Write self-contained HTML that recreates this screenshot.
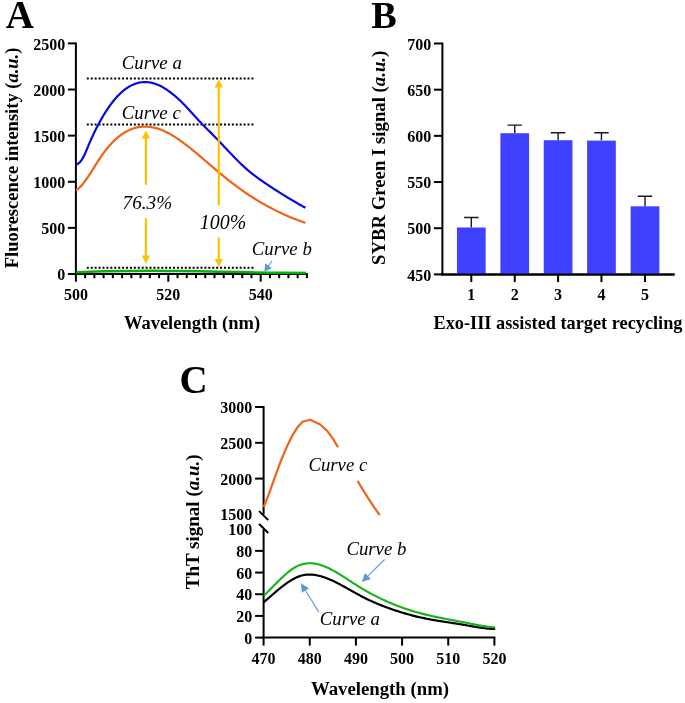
<!DOCTYPE html>
<html><head><meta charset="utf-8"><style>
html,body{margin:0;padding:0;background:#fff;}
svg{display:block;will-change:transform;}
</style></head><body>
<svg width="685" height="703" viewBox="0 0 685 703">
<rect width="685" height="703" fill="#fff"/>
<text x="5.8" y="27.8" font-family="&apos;Liberation Serif&apos;, serif" font-weight="bold" font-size="39">A</text>
<path d="M75.9,42.50000000000001 V274.9" stroke="#000" stroke-width="2" fill="none"/>
<path d="M74.9,274.0 H307.9" stroke="#000" stroke-width="2" fill="none"/>
<path d="M67.9,274.00 H75.9" stroke="#000" stroke-width="2"/>
<text x="65.2" y="280.10" font-family="&apos;Liberation Serif&apos;, serif" font-weight="bold" font-size="16" text-anchor="end">0</text>
<path d="M67.9,227.88 H75.9" stroke="#000" stroke-width="2"/>
<text x="65.2" y="233.98" font-family="&apos;Liberation Serif&apos;, serif" font-weight="bold" font-size="16" text-anchor="end">500</text>
<path d="M67.9,181.76 H75.9" stroke="#000" stroke-width="2"/>
<text x="65.2" y="187.86" font-family="&apos;Liberation Serif&apos;, serif" font-weight="bold" font-size="16" text-anchor="end">1000</text>
<path d="M67.9,135.64 H75.9" stroke="#000" stroke-width="2"/>
<text x="65.2" y="141.74" font-family="&apos;Liberation Serif&apos;, serif" font-weight="bold" font-size="16" text-anchor="end">1500</text>
<path d="M67.9,89.52 H75.9" stroke="#000" stroke-width="2"/>
<text x="65.2" y="95.62" font-family="&apos;Liberation Serif&apos;, serif" font-weight="bold" font-size="16" text-anchor="end">2000</text>
<path d="M67.9,43.40 H75.9" stroke="#000" stroke-width="2"/>
<text x="65.2" y="49.50" font-family="&apos;Liberation Serif&apos;, serif" font-weight="bold" font-size="16" text-anchor="end">2500</text>
<path d="M75.90,274.0 V281.7" stroke="#000" stroke-width="2"/>
<path d="M85.14,274.0 V278.2" stroke="#000" stroke-width="2"/>
<path d="M94.38,274.0 V278.2" stroke="#000" stroke-width="2"/>
<path d="M103.62,274.0 V278.2" stroke="#000" stroke-width="2"/>
<path d="M112.86,274.0 V278.2" stroke="#000" stroke-width="2"/>
<path d="M122.10,274.0 V278.2" stroke="#000" stroke-width="2"/>
<path d="M131.34,274.0 V278.2" stroke="#000" stroke-width="2"/>
<path d="M140.58,274.0 V278.2" stroke="#000" stroke-width="2"/>
<path d="M149.82,274.0 V278.2" stroke="#000" stroke-width="2"/>
<path d="M159.06,274.0 V278.2" stroke="#000" stroke-width="2"/>
<path d="M168.30,274.0 V281.7" stroke="#000" stroke-width="2"/>
<path d="M177.54,274.0 V278.2" stroke="#000" stroke-width="2"/>
<path d="M186.78,274.0 V278.2" stroke="#000" stroke-width="2"/>
<path d="M196.02,274.0 V278.2" stroke="#000" stroke-width="2"/>
<path d="M205.26,274.0 V278.2" stroke="#000" stroke-width="2"/>
<path d="M214.50,274.0 V278.2" stroke="#000" stroke-width="2"/>
<path d="M223.74,274.0 V278.2" stroke="#000" stroke-width="2"/>
<path d="M232.98,274.0 V278.2" stroke="#000" stroke-width="2"/>
<path d="M242.22,274.0 V278.2" stroke="#000" stroke-width="2"/>
<path d="M251.46,274.0 V278.2" stroke="#000" stroke-width="2"/>
<path d="M260.70,274.0 V281.7" stroke="#000" stroke-width="2"/>
<path d="M269.94,274.0 V278.2" stroke="#000" stroke-width="2"/>
<path d="M279.18,274.0 V278.2" stroke="#000" stroke-width="2"/>
<path d="M288.42,274.0 V278.2" stroke="#000" stroke-width="2"/>
<path d="M297.66,274.0 V278.2" stroke="#000" stroke-width="2"/>
<path d="M306.90,274.0 V278.2" stroke="#000" stroke-width="2"/>
<text x="75.90" y="299.8" font-family="&apos;Liberation Serif&apos;, serif" font-weight="bold" font-size="16" text-anchor="middle">500</text>
<text x="168.30" y="299.8" font-family="&apos;Liberation Serif&apos;, serif" font-weight="bold" font-size="16" text-anchor="middle">520</text>
<text x="260.70" y="299.8" font-family="&apos;Liberation Serif&apos;, serif" font-weight="bold" font-size="16" text-anchor="middle">540</text>
<text x="192" y="328.9" font-family="&apos;Liberation Serif&apos;, serif" font-weight="bold" font-size="18.5" text-anchor="middle">Wavelength (nm)</text>
<text transform="translate(17.5,157.9) rotate(-90)" font-family="&apos;Liberation Serif&apos;, serif" font-weight="bold" font-size="18.5" text-anchor="middle">Fluorescence intensity (<tspan font-style="italic">a.u.</tspan>)</text>
<path d="M86.8,78.6 H254" stroke="#000" stroke-width="2" stroke-dasharray="2 1.92" fill="none"/>
<path d="M86.8,124.4 H254" stroke="#000" stroke-width="2" stroke-dasharray="2 1.92" fill="none"/>
<path d="M86.8,267.8 H254" stroke="#000" stroke-width="2" stroke-dasharray="2 1.92" fill="none"/>
<path d="M76.00,164.73 L77.00,164.35 L78.00,163.77 L79.00,162.98 L80.00,161.98 L81.00,160.76 L82.00,159.32 L83.00,157.66 L84.00,155.78 L85.00,153.67 L86.00,151.40 L87.00,149.02 L88.00,146.60 L89.00,144.19 L90.00,141.85 L91.00,139.57 L92.00,137.36 L93.00,135.21 L94.00,133.11 L95.00,131.05 L96.00,129.05 L97.00,127.08 L98.00,125.16 L99.00,123.28 L100.00,121.44 L101.00,119.65 L102.00,117.90 L103.00,116.19 L104.00,114.52 L105.00,112.90 L106.00,111.32 L107.00,109.78 L108.00,108.29 L109.00,106.84 L110.00,105.43 L111.00,104.06 L112.00,102.74 L113.00,101.46 L114.00,100.22 L115.00,99.03 L116.00,97.88 L117.00,96.77 L118.00,95.70 L119.00,94.68 L120.00,93.70 L121.00,92.76 L122.00,91.86 L123.00,91.00 L124.00,90.19 L125.00,89.41 L126.00,88.68 L127.00,87.99 L128.00,87.33 L129.00,86.72 L130.00,86.14 L131.00,85.61 L132.00,85.11 L133.00,84.65 L134.00,84.23 L135.00,83.85 L136.00,83.51 L137.00,83.20 L138.00,82.93 L139.00,82.70 L140.00,82.50 L141.00,82.34 L142.00,82.22 L143.00,82.13 L144.00,82.08 L145.00,82.06 L146.00,82.08 L147.00,82.13 L148.00,82.22 L149.00,82.34 L150.00,82.50 L151.00,82.68 L152.00,82.91 L153.00,83.16 L154.00,83.45 L155.00,83.77 L156.00,84.12 L157.00,84.50 L158.00,84.91 L159.00,85.35 L160.00,85.82 L161.00,86.32 L162.00,86.84 L163.00,87.40 L164.00,87.98 L165.00,88.59 L166.00,89.22 L167.00,89.88 L168.00,90.57 L169.00,91.28 L170.00,92.01 L171.00,92.77 L172.00,93.55 L173.00,94.35 L174.00,95.18 L175.00,96.02 L176.00,96.89 L177.00,97.78 L178.00,98.69 L179.00,99.61 L180.00,100.56 L181.00,101.52 L182.00,102.51 L183.00,103.51 L184.00,104.52 L185.00,105.56 L186.00,106.60 L187.00,107.66 L188.00,108.73 L189.00,109.81 L190.00,110.89 L191.00,111.99 L192.00,113.08 L193.00,114.18 L194.00,115.28 L195.00,116.38 L196.00,117.47 L197.00,118.57 L198.00,119.65 L199.00,120.73 L200.00,121.80 L201.00,122.86 L202.00,123.91 L203.00,124.95 L204.00,125.97 L205.00,126.97 L206.00,127.96 L207.00,128.95 L208.00,129.93 L209.00,130.91 L210.00,131.90 L211.00,132.90 L212.00,133.90 L213.00,134.91 L214.00,135.93 L215.00,136.95 L216.00,137.98 L217.00,139.01 L218.00,140.05 L219.00,141.09 L220.00,142.14 L221.00,143.20 L222.00,144.25 L223.00,145.32 L224.00,146.38 L225.00,147.44 L226.00,148.51 L227.00,149.57 L228.00,150.63 L229.00,151.69 L230.00,152.75 L231.00,153.80 L232.00,154.85 L233.00,155.89 L234.00,156.93 L235.00,157.96 L236.00,158.98 L237.00,159.99 L238.00,160.99 L239.00,161.99 L240.00,162.97 L241.00,163.94 L242.00,164.89 L243.00,165.84 L244.00,166.76 L245.00,167.68 L246.00,168.57 L247.00,169.45 L248.00,170.32 L249.00,171.16 L250.00,171.99 L251.00,172.80 L252.00,173.60 L253.00,174.39 L254.00,175.16 L255.00,175.92 L256.00,176.67 L257.00,177.40 L258.00,178.13 L259.00,178.85 L260.00,179.56 L261.00,180.26 L262.00,180.95 L263.00,181.64 L264.00,182.33 L265.00,183.01 L266.00,183.68 L267.00,184.35 L268.00,185.02 L269.00,185.69 L270.00,186.35 L271.00,187.01 L272.00,187.67 L273.00,188.32 L274.00,188.97 L275.00,189.62 L276.00,190.27 L277.00,190.91 L278.00,191.54 L279.00,192.18 L280.00,192.81 L281.00,193.44 L282.00,194.06 L283.00,194.69 L284.00,195.31 L285.00,195.92 L286.00,196.53 L287.00,197.14 L288.00,197.75 L289.00,198.35 L290.00,198.95 L291.00,199.55 L292.00,200.14 L293.00,200.73 L294.00,201.32 L295.00,201.90 L296.00,202.48 L297.00,203.06 L298.00,203.63 L299.00,204.20 L300.00,204.77 L301.00,205.33 L302.00,205.90 L303.00,206.45 L304.00,207.01 L305.00,207.56 L305.40,207.78" stroke="#0A0AE0" stroke-width="2.2" fill="none"/>
<path d="M76.00,189.93 L77.00,189.50 L78.00,188.87 L79.00,188.08 L80.00,187.14 L81.00,186.08 L82.00,184.92 L83.00,183.69 L84.00,182.41 L85.00,181.09 L86.00,179.73 L87.00,178.34 L88.00,176.91 L89.00,175.44 L90.00,173.92 L91.00,172.36 L92.00,170.78 L93.00,169.17 L94.00,167.56 L95.00,165.94 L96.00,164.32 L97.00,162.72 L98.00,161.14 L99.00,159.60 L100.00,158.08 L101.00,156.61 L102.00,155.18 L103.00,153.78 L104.00,152.42 L105.00,151.10 L106.00,149.81 L107.00,148.56 L108.00,147.35 L109.00,146.18 L110.00,145.04 L111.00,143.94 L112.00,142.87 L113.00,141.84 L114.00,140.85 L115.00,139.89 L116.00,138.97 L117.00,138.09 L118.00,137.24 L119.00,136.42 L120.00,135.64 L121.00,134.89 L122.00,134.18 L123.00,133.51 L124.00,132.86 L125.00,132.25 L126.00,131.68 L127.00,131.13 L128.00,130.62 L129.00,130.14 L130.00,129.70 L131.00,129.28 L132.00,128.90 L133.00,128.54 L134.00,128.22 L135.00,127.93 L136.00,127.66 L137.00,127.43 L138.00,127.22 L139.00,127.05 L140.00,126.90 L141.00,126.78 L142.00,126.69 L143.00,126.63 L144.00,126.59 L145.00,126.58 L146.00,126.59 L147.00,126.64 L148.00,126.70 L149.00,126.80 L150.00,126.92 L151.00,127.06 L152.00,127.23 L153.00,127.42 L154.00,127.63 L155.00,127.87 L156.00,128.14 L157.00,128.42 L158.00,128.73 L159.00,129.06 L160.00,129.41 L161.00,129.78 L162.00,130.17 L163.00,130.59 L164.00,131.02 L165.00,131.47 L166.00,131.95 L167.00,132.44 L168.00,132.95 L169.00,133.48 L170.00,134.03 L171.00,134.59 L172.00,135.18 L173.00,135.77 L174.00,136.39 L175.00,137.01 L176.00,137.66 L177.00,138.31 L178.00,138.98 L179.00,139.67 L180.00,140.36 L181.00,141.07 L182.00,141.79 L183.00,142.52 L184.00,143.27 L185.00,144.02 L186.00,144.78 L187.00,145.55 L188.00,146.33 L189.00,147.12 L190.00,147.91 L191.00,148.72 L192.00,149.53 L193.00,150.34 L194.00,151.16 L195.00,151.99 L196.00,152.82 L197.00,153.66 L198.00,154.50 L199.00,155.34 L200.00,156.19 L201.00,157.04 L202.00,157.89 L203.00,158.75 L204.00,159.60 L205.00,160.46 L206.00,161.32 L207.00,162.18 L208.00,163.04 L209.00,163.90 L210.00,164.76 L211.00,165.62 L212.00,166.48 L213.00,167.33 L214.00,168.19 L215.00,169.04 L216.00,169.90 L217.00,170.74 L218.00,171.59 L219.00,172.43 L220.00,173.27 L221.00,174.11 L222.00,174.94 L223.00,175.77 L224.00,176.59 L225.00,177.40 L226.00,178.22 L227.00,179.02 L228.00,179.82 L229.00,180.61 L230.00,181.39 L231.00,182.17 L232.00,182.94 L233.00,183.71 L234.00,184.47 L235.00,185.22 L236.00,185.97 L237.00,186.70 L238.00,187.44 L239.00,188.16 L240.00,188.88 L241.00,189.59 L242.00,190.30 L243.00,191.00 L244.00,191.70 L245.00,192.38 L246.00,193.06 L247.00,193.74 L248.00,194.41 L249.00,195.07 L250.00,195.72 L251.00,196.37 L252.00,197.02 L253.00,197.65 L254.00,198.29 L255.00,198.91 L256.00,199.53 L257.00,200.14 L258.00,200.75 L259.00,201.35 L260.00,201.94 L261.00,202.53 L262.00,203.11 L263.00,203.69 L264.00,204.26 L265.00,204.82 L266.00,205.38 L267.00,205.93 L268.00,206.48 L269.00,207.02 L270.00,207.56 L271.00,208.09 L272.00,208.61 L273.00,209.13 L274.00,209.64 L275.00,210.14 L276.00,210.64 L277.00,211.14 L278.00,211.63 L279.00,212.11 L280.00,212.59 L281.00,213.06 L282.00,213.52 L283.00,213.98 L284.00,214.44 L285.00,214.89 L286.00,215.33 L287.00,215.77 L288.00,216.20 L289.00,216.63 L290.00,217.05 L291.00,217.46 L292.00,217.87 L293.00,218.28 L294.00,218.68 L295.00,219.07 L296.00,219.46 L297.00,219.85 L298.00,220.22 L299.00,220.60 L300.00,220.97 L301.00,221.33 L302.00,221.69 L303.00,222.04 L304.00,222.38 L305.00,222.73 L305.40,222.86" stroke="#F16316" stroke-width="2.2" fill="none"/>
<path d="M76.00,272.40 C78.33,272.28 85.33,271.88 90.00,271.70 C94.67,271.52 97.33,271.43 104.00,271.30 C110.67,271.18 119.83,271.02 130.00,270.95 C140.17,270.88 153.33,270.84 165.00,270.90 C176.67,270.96 187.50,271.10 200.00,271.30 C212.50,271.50 228.33,271.87 240.00,272.10 C251.67,272.33 258.97,272.55 270.00,272.70 C281.03,272.85 300.17,272.95 306.20,273.00" stroke="#0AAF0A" stroke-width="2.5" fill="none"/>
<path d="M145.9,138.1 V184.8" stroke="#FFC000" stroke-width="2.2"/><path d="M145.9,130.4 L150.0,138.6 L141.8,138.6 Z" fill="#FFC000"/>
<path d="M145.9,218.2 V256.1" stroke="#FFC000" stroke-width="2.2"/><path d="M145.9,263.8 L150.0,255.60000000000002 L141.8,255.60000000000002 Z" fill="#FFC000"/>
<path d="M218.8,86.9 V205.3" stroke="#FFC000" stroke-width="2.2"/><path d="M218.8,79.2 L222.9,87.4 L214.70000000000002,87.4 Z" fill="#FFC000"/>
<path d="M218.8,237.6 V259.5" stroke="#FFC000" stroke-width="2.2"/><path d="M218.8,267.2 L222.9,259.0 L214.70000000000002,259.0 Z" fill="#FFC000"/>
<text x="121.8" y="68.7" font-family="&apos;Liberation Serif&apos;, serif" font-style="italic" font-size="18.8">Curve a</text>
<text x="121.8" y="118.6" font-family="&apos;Liberation Serif&apos;, serif" font-style="italic" font-size="18.8">Curve c</text>
<text x="122.6" y="208.6" font-family="&apos;Liberation Serif&apos;, serif" font-style="italic" font-size="19.2">76.3%</text>
<text x="199.8" y="229.3" font-family="&apos;Liberation Serif&apos;, serif" font-style="italic" font-size="19.9">100%</text>
<text x="251.8" y="254.8" font-family="&apos;Liberation Serif&apos;, serif" font-style="italic" font-size="18.8">Curve b</text>
<path d="M272.10,260.70 L268.24,266.21" stroke="#5B9BD5" stroke-width="1.1"/><path d="M264.40,271.70 L265.25,263.51 L271.81,268.10 Z" fill="#5B9BD5"/>
<text x="371.3" y="27.5" font-family="&apos;Liberation Serif&apos;, serif" font-weight="bold" font-size="38.3">B</text>
<path d="M442.4,42.59999999999997 V275.29999999999995" stroke="#000" stroke-width="2" fill="none"/>
<path d="M441.4,274.4 H674.6" stroke="#000" stroke-width="2" fill="none"/>
<path d="M433.9,274.40 H442.4" stroke="#000" stroke-width="2"/>
<text x="431.3" y="280.50" font-family="&apos;Liberation Serif&apos;, serif" font-weight="bold" font-size="16" text-anchor="end">450</text>
<path d="M433.9,228.22 H442.4" stroke="#000" stroke-width="2"/>
<text x="431.3" y="234.32" font-family="&apos;Liberation Serif&apos;, serif" font-weight="bold" font-size="16" text-anchor="end">500</text>
<path d="M433.9,182.04 H442.4" stroke="#000" stroke-width="2"/>
<text x="431.3" y="188.14" font-family="&apos;Liberation Serif&apos;, serif" font-weight="bold" font-size="16" text-anchor="end">550</text>
<path d="M433.9,135.86 H442.4" stroke="#000" stroke-width="2"/>
<text x="431.3" y="141.96" font-family="&apos;Liberation Serif&apos;, serif" font-weight="bold" font-size="16" text-anchor="end">600</text>
<path d="M433.9,89.68 H442.4" stroke="#000" stroke-width="2"/>
<text x="431.3" y="95.78" font-family="&apos;Liberation Serif&apos;, serif" font-weight="bold" font-size="16" text-anchor="end">650</text>
<path d="M433.9,43.50 H442.4" stroke="#000" stroke-width="2"/>
<text x="431.3" y="49.60" font-family="&apos;Liberation Serif&apos;, serif" font-weight="bold" font-size="16" text-anchor="end">700</text>
<path d="M471.3,227.5 V217.5 M464.1,217.5 H478.5" stroke="#1a1a1a" stroke-width="1.4" fill="none"/>
<rect x="456.95" y="227.5" width="28.7" height="46.90" fill="#4040FF"/>
<path d="M471.3,274.4 V282.1" stroke="#000" stroke-width="2"/>
<text x="471.3" y="299.5" font-family="&apos;Liberation Serif&apos;, serif" font-weight="bold" font-size="16" text-anchor="middle">1</text>
<path d="M514.75,133.2 V125.1 M507.55,125.1 H521.95" stroke="#1a1a1a" stroke-width="1.4" fill="none"/>
<rect x="500.40" y="133.2" width="28.7" height="141.20" fill="#4040FF"/>
<path d="M514.75,274.4 V282.1" stroke="#000" stroke-width="2"/>
<text x="514.75" y="299.5" font-family="&apos;Liberation Serif&apos;, serif" font-weight="bold" font-size="16" text-anchor="middle">2</text>
<path d="M558.1,140.2 V132.8 M550.9,132.8 H565.3000000000001" stroke="#1a1a1a" stroke-width="1.4" fill="none"/>
<rect x="543.75" y="140.2" width="28.7" height="134.20" fill="#4040FF"/>
<path d="M558.1,274.4 V282.1" stroke="#000" stroke-width="2"/>
<text x="558.1" y="299.5" font-family="&apos;Liberation Serif&apos;, serif" font-weight="bold" font-size="16" text-anchor="middle">3</text>
<path d="M601.45,140.6 V132.8 M594.25,132.8 H608.6500000000001" stroke="#1a1a1a" stroke-width="1.4" fill="none"/>
<rect x="587.10" y="140.6" width="28.7" height="133.80" fill="#4040FF"/>
<path d="M601.45,274.4 V282.1" stroke="#000" stroke-width="2"/>
<text x="601.45" y="299.5" font-family="&apos;Liberation Serif&apos;, serif" font-weight="bold" font-size="16" text-anchor="middle">4</text>
<path d="M645.0,206.3 V196.3 M637.8,196.3 H652.2" stroke="#1a1a1a" stroke-width="1.4" fill="none"/>
<rect x="630.65" y="206.3" width="28.7" height="68.10" fill="#4040FF"/>
<path d="M645.0,274.4 V282.1" stroke="#000" stroke-width="2"/>
<text x="645.0" y="299.5" font-family="&apos;Liberation Serif&apos;, serif" font-weight="bold" font-size="16" text-anchor="middle">5</text>
<path d="M441.4,274.4 H674.6" stroke="#000" stroke-width="2" fill="none"/>
<text x="558.0" y="328.6" font-family="&apos;Liberation Serif&apos;, serif" font-weight="bold" font-size="18.3" text-anchor="middle">Exo-III assisted target recycling</text>
<text transform="translate(384.9,157.85) rotate(-90)" font-family="&apos;Liberation Serif&apos;, serif" font-weight="bold" font-size="18.75" text-anchor="middle">SYBR Green I signal (<tspan font-style="italic">a.u.</tspan>)</text>
<text x="179.5" y="393.0" font-family="&apos;Liberation Serif&apos;, serif" font-weight="bold" font-size="39">C</text>
<path d="M263.6,406.1 V514.4" stroke="#000" stroke-width="2" fill="none"/>
<path d="M263.6,529.2 V638.5" stroke="#000" stroke-width="2" fill="none"/>
<path d="M259.1,511.1 L268.3,520.1 M259.1,524 L268.3,533" stroke="#000" stroke-width="2" fill="none"/>
<path d="M262.6,637.6 H495.4" stroke="#000" stroke-width="2" fill="none"/>
<path d="M255.10000000000002,407.00 H263.6" stroke="#000" stroke-width="2"/>
<text x="252.2" y="413.10" font-family="&apos;Liberation Serif&apos;, serif" font-weight="bold" font-size="16" text-anchor="end">3000</text>
<path d="M255.10000000000002,442.80 H263.6" stroke="#000" stroke-width="2"/>
<text x="252.2" y="448.90" font-family="&apos;Liberation Serif&apos;, serif" font-weight="bold" font-size="16" text-anchor="end">2500</text>
<path d="M255.10000000000002,478.60 H263.6" stroke="#000" stroke-width="2"/>
<text x="252.2" y="484.70" font-family="&apos;Liberation Serif&apos;, serif" font-weight="bold" font-size="16" text-anchor="end">2000</text>
<text x="252.2" y="520.2" font-family="&apos;Liberation Serif&apos;, serif" font-weight="bold" font-size="16" text-anchor="end">1500</text>
<text x="252.2" y="535.2" font-family="&apos;Liberation Serif&apos;, serif" font-weight="bold" font-size="16" text-anchor="end">100</text>
<path d="M255.10000000000002,550.88 H263.6" stroke="#000" stroke-width="2"/>
<text x="252.2" y="556.98" font-family="&apos;Liberation Serif&apos;, serif" font-weight="bold" font-size="16" text-anchor="end">80</text>
<path d="M255.10000000000002,572.56 H263.6" stroke="#000" stroke-width="2"/>
<text x="252.2" y="578.66" font-family="&apos;Liberation Serif&apos;, serif" font-weight="bold" font-size="16" text-anchor="end">60</text>
<path d="M255.10000000000002,594.24 H263.6" stroke="#000" stroke-width="2"/>
<text x="252.2" y="600.34" font-family="&apos;Liberation Serif&apos;, serif" font-weight="bold" font-size="16" text-anchor="end">40</text>
<path d="M255.10000000000002,615.92 H263.6" stroke="#000" stroke-width="2"/>
<text x="252.2" y="622.02" font-family="&apos;Liberation Serif&apos;, serif" font-weight="bold" font-size="16" text-anchor="end">20</text>
<path d="M255.10000000000002,637.60 H263.6" stroke="#000" stroke-width="2"/>
<text x="252.2" y="643.70" font-family="&apos;Liberation Serif&apos;, serif" font-weight="bold" font-size="16" text-anchor="end">0</text>
<path d="M263.60,637.6 V645.6" stroke="#000" stroke-width="2"/>
<text x="263.60" y="663.6" font-family="&apos;Liberation Serif&apos;, serif" font-weight="bold" font-size="16" text-anchor="middle">470</text>
<path d="M309.76,637.6 V645.6" stroke="#000" stroke-width="2"/>
<text x="309.76" y="663.6" font-family="&apos;Liberation Serif&apos;, serif" font-weight="bold" font-size="16" text-anchor="middle">480</text>
<path d="M355.92,637.6 V645.6" stroke="#000" stroke-width="2"/>
<text x="355.92" y="663.6" font-family="&apos;Liberation Serif&apos;, serif" font-weight="bold" font-size="16" text-anchor="middle">490</text>
<path d="M402.08,637.6 V645.6" stroke="#000" stroke-width="2"/>
<text x="402.08" y="663.6" font-family="&apos;Liberation Serif&apos;, serif" font-weight="bold" font-size="16" text-anchor="middle">500</text>
<path d="M448.24,637.6 V645.6" stroke="#000" stroke-width="2"/>
<text x="448.24" y="663.6" font-family="&apos;Liberation Serif&apos;, serif" font-weight="bold" font-size="16" text-anchor="middle">510</text>
<path d="M494.40,637.6 V645.6" stroke="#000" stroke-width="2"/>
<text x="494.40" y="663.6" font-family="&apos;Liberation Serif&apos;, serif" font-weight="bold" font-size="16" text-anchor="middle">520</text>
<text x="380" y="695.4" font-family="&apos;Liberation Serif&apos;, serif" font-weight="bold" font-size="18.75" text-anchor="middle">Wavelength (nm)</text>
<text transform="translate(198.8,521.8) rotate(-90)" font-family="&apos;Liberation Serif&apos;, serif" font-weight="bold" font-size="19" text-anchor="middle">ThT signal (<tspan font-style="italic">a.u.</tspan>)</text>
<path d="M263.70,507.10 L269.00,493.70 L274.90,477.20 L280.90,460.80 L286.90,446.60 L292.90,434.60 L298.10,426.40 L302.60,421.70 L310.00,419.70 L319.80,424.20 L327.20,430.90 L333.20,439.10 L338.00,447.30" stroke="#F16316" stroke-width="2.2" fill="none" stroke-linejoin="round"/>
<path d="M357.70,481.05 L358.70,482.77 L359.70,484.47 L360.70,486.16 L361.70,487.83 L362.70,489.48 L363.70,491.12 L364.70,492.74 L365.70,494.34 L366.70,495.92 L367.70,497.49 L368.70,499.04 L369.70,500.58 L370.70,502.10 L371.70,503.60 L372.70,505.08 L373.70,506.55 L374.70,508.00 L375.70,509.44 L376.70,510.85 L377.70,512.26 L378.70,513.64 L379.70,515.01" stroke="#F16316" stroke-width="2.2" fill="none"/>
<path d="M263.80,602.15 L264.80,601.30 L265.80,600.44 L266.80,599.58 L267.80,598.72 L268.80,597.85 L269.80,596.98 L270.80,596.11 L271.80,595.24 L272.80,594.37 L273.80,593.51 L274.80,592.64 L275.80,591.79 L276.80,590.94 L277.80,590.10 L278.80,589.27 L279.80,588.45 L280.80,587.64 L281.80,586.84 L282.80,586.06 L283.80,585.29 L284.80,584.54 L285.80,583.81 L286.80,583.10 L287.80,582.41 L288.80,581.73 L289.80,581.08 L290.80,580.46 L291.80,579.86 L292.80,579.29 L293.80,578.74 L294.80,578.22 L295.80,577.73 L296.80,577.28 L297.80,576.86 L298.80,576.47 L299.80,576.11 L300.80,575.79 L301.80,575.51 L302.80,575.27 L303.80,575.06 L304.80,574.89 L305.80,574.75 L306.80,574.65 L307.80,574.58 L308.80,574.55 L309.80,574.54 L310.80,574.56 L311.80,574.62 L312.80,574.70 L313.80,574.81 L314.80,574.94 L315.80,575.10 L316.80,575.29 L317.80,575.49 L318.80,575.72 L319.80,575.98 L320.80,576.25 L321.80,576.54 L322.80,576.85 L323.80,577.18 L324.80,577.52 L325.80,577.88 L326.80,578.26 L327.80,578.65 L328.80,579.06 L329.80,579.48 L330.80,579.92 L331.80,580.36 L332.80,580.82 L333.80,581.29 L334.80,581.77 L335.80,582.26 L336.80,582.76 L337.80,583.27 L338.80,583.79 L339.80,584.32 L340.80,584.85 L341.80,585.38 L342.80,585.93 L343.80,586.47 L344.80,587.03 L345.80,587.58 L346.80,588.14 L347.80,588.70 L348.80,589.26 L349.80,589.83 L350.80,590.39 L351.80,590.96 L352.80,591.52 L353.80,592.08 L354.80,592.64 L355.80,593.19 L356.80,593.75 L357.80,594.30 L358.80,594.84 L359.80,595.38 L360.80,595.91 L361.80,596.44 L362.80,596.95 L363.80,597.46 L364.80,597.97 L365.80,598.47 L366.80,598.96 L367.80,599.44 L368.80,599.91 L369.80,600.38 L370.80,600.85 L371.80,601.30 L372.80,601.75 L373.80,602.20 L374.80,602.63 L375.80,603.07 L376.80,603.49 L377.80,603.91 L378.80,604.33 L379.80,604.74 L380.80,605.14 L381.80,605.54 L382.80,605.93 L383.80,606.32 L384.80,606.70 L385.80,607.07 L386.80,607.45 L387.80,607.81 L388.80,608.18 L389.80,608.53 L390.80,608.89 L391.80,609.23 L392.80,609.58 L393.80,609.92 L394.80,610.26 L395.80,610.59 L396.80,610.91 L397.80,611.24 L398.80,611.56 L399.80,611.87 L400.80,612.18 L401.80,612.49 L402.80,612.79 L403.80,613.09 L404.80,613.38 L405.80,613.67 L406.80,613.96 L407.80,614.24 L408.80,614.51 L409.80,614.79 L410.80,615.05 L411.80,615.32 L412.80,615.58 L413.80,615.83 L414.80,616.08 L415.80,616.33 L416.80,616.57 L417.80,616.81 L418.80,617.05 L419.80,617.28 L420.80,617.50 L421.80,617.72 L422.80,617.94 L423.80,618.15 L424.80,618.36 L425.80,618.57 L426.80,618.77 L427.80,618.96 L428.80,619.15 L429.80,619.34 L430.80,619.53 L431.80,619.71 L432.80,619.88 L433.80,620.06 L434.80,620.23 L435.80,620.40 L436.80,620.56 L437.80,620.73 L438.80,620.89 L439.80,621.05 L440.80,621.20 L441.80,621.36 L442.80,621.52 L443.80,621.67 L444.80,621.82 L445.80,621.97 L446.80,622.13 L447.80,622.28 L448.80,622.43 L449.80,622.58 L450.80,622.73 L451.80,622.88 L452.80,623.04 L453.80,623.19 L454.80,623.35 L455.80,623.50 L456.80,623.66 L457.80,623.82 L458.80,623.98 L459.80,624.15 L460.80,624.31 L461.80,624.48 L462.80,624.65 L463.80,624.83 L464.80,625.00 L465.80,625.18 L466.80,625.36 L467.80,625.54 L468.80,625.72 L469.80,625.90 L470.80,626.08 L471.80,626.26 L472.80,626.43 L473.80,626.61 L474.80,626.78 L475.80,626.95 L476.80,627.12 L477.80,627.28 L478.80,627.43 L479.80,627.59 L480.80,627.74 L481.80,627.88 L482.80,628.01 L483.80,628.14 L484.80,628.27 L485.80,628.38 L486.80,628.49 L487.80,628.59 L488.80,628.68 L489.80,628.76 L490.80,628.83 L491.80,628.89 L492.80,628.94 L493.80,628.98 L494.80,629.01 L495.20,629.02" stroke="#000" stroke-width="2.2" fill="none"/>
<path d="M263.80,595.59 L264.80,594.67 L265.80,593.72 L266.80,592.77 L267.80,591.79 L268.80,590.81 L269.80,589.82 L270.80,588.82 L271.80,587.81 L272.80,586.80 L273.80,585.79 L274.80,584.78 L275.80,583.76 L276.80,582.76 L277.80,581.76 L278.80,580.76 L279.80,579.78 L280.80,578.81 L281.80,577.85 L282.80,576.90 L283.80,575.98 L284.80,575.07 L285.80,574.19 L286.80,573.32 L287.80,572.48 L288.80,571.67 L289.80,570.89 L290.80,570.14 L291.80,569.42 L292.80,568.73 L293.80,568.08 L294.80,567.47 L295.80,566.90 L296.80,566.38 L297.80,565.89 L298.80,565.45 L299.80,565.06 L300.80,564.70 L301.80,564.39 L302.80,564.11 L303.80,563.88 L304.80,563.68 L305.80,563.53 L306.80,563.40 L307.80,563.32 L308.80,563.27 L309.80,563.25 L310.80,563.27 L311.80,563.32 L312.80,563.40 L313.80,563.51 L314.80,563.66 L315.80,563.83 L316.80,564.03 L317.80,564.25 L318.80,564.51 L319.80,564.78 L320.80,565.09 L321.80,565.41 L322.80,565.76 L323.80,566.14 L324.80,566.53 L325.80,566.94 L326.80,567.38 L327.80,567.83 L328.80,568.30 L329.80,568.79 L330.80,569.29 L331.80,569.81 L332.80,570.34 L333.80,570.89 L334.80,571.45 L335.80,572.02 L336.80,572.61 L337.80,573.20 L338.80,573.81 L339.80,574.42 L340.80,575.04 L341.80,575.67 L342.80,576.30 L343.80,576.94 L344.80,577.59 L345.80,578.23 L346.80,578.88 L347.80,579.54 L348.80,580.19 L349.80,580.85 L350.80,581.50 L351.80,582.15 L352.80,582.80 L353.80,583.45 L354.80,584.09 L355.80,584.73 L356.80,585.37 L357.80,585.99 L358.80,586.62 L359.80,587.23 L360.80,587.84 L361.80,588.44 L362.80,589.03 L363.80,589.62 L364.80,590.20 L365.80,590.77 L366.80,591.34 L367.80,591.90 L368.80,592.46 L369.80,593.01 L370.80,593.55 L371.80,594.09 L372.80,594.62 L373.80,595.14 L374.80,595.66 L375.80,596.17 L376.80,596.67 L377.80,597.17 L378.80,597.67 L379.80,598.16 L380.80,598.64 L381.80,599.11 L382.80,599.58 L383.80,600.05 L384.80,600.51 L385.80,600.96 L386.80,601.41 L387.80,601.85 L388.80,602.28 L389.80,602.71 L390.80,603.14 L391.80,603.56 L392.80,603.97 L393.80,604.38 L394.80,604.78 L395.80,605.18 L396.80,605.57 L397.80,605.96 L398.80,606.34 L399.80,606.71 L400.80,607.08 L401.80,607.45 L402.80,607.81 L403.80,608.16 L404.80,608.51 L405.80,608.85 L406.80,609.19 L407.80,609.52 L408.80,609.85 L409.80,610.17 L410.80,610.49 L411.80,610.80 L412.80,611.11 L413.80,611.41 L414.80,611.70 L415.80,611.99 L416.80,612.28 L417.80,612.56 L418.80,612.84 L419.80,613.11 L420.80,613.37 L421.80,613.63 L422.80,613.89 L423.80,614.14 L424.80,614.39 L425.80,614.63 L426.80,614.87 L427.80,615.11 L428.80,615.34 L429.80,615.57 L430.80,615.80 L431.80,616.02 L432.80,616.24 L433.80,616.45 L434.80,616.67 L435.80,616.88 L436.80,617.09 L437.80,617.29 L438.80,617.50 L439.80,617.70 L440.80,617.90 L441.80,618.10 L442.80,618.29 L443.80,618.49 L444.80,618.68 L445.80,618.87 L446.80,619.07 L447.80,619.26 L448.80,619.45 L449.80,619.64 L450.80,619.83 L451.80,620.02 L452.80,620.21 L453.80,620.40 L454.80,620.59 L455.80,620.78 L456.80,620.97 L457.80,621.16 L458.80,621.35 L459.80,621.55 L460.80,621.74 L461.80,621.94 L462.80,622.13 L463.80,622.33 L464.80,622.53 L465.80,622.73 L466.80,622.93 L467.80,623.13 L468.80,623.34 L469.80,623.54 L470.80,623.73 L471.80,623.93 L472.80,624.13 L473.80,624.32 L474.80,624.52 L475.80,624.71 L476.80,624.89 L477.80,625.08 L478.80,625.26 L479.80,625.44 L480.80,625.61 L481.80,625.78 L482.80,625.94 L483.80,626.10 L484.80,626.26 L485.80,626.41 L486.80,626.55 L487.80,626.69 L488.80,626.82 L489.80,626.94 L490.80,627.06 L491.80,627.17 L492.80,627.27 L493.80,627.36 L494.80,627.45 L495.20,627.48" stroke="#14B414" stroke-width="2.1" fill="none"/>
<text x="308.4" y="471.4" font-family="&apos;Liberation Serif&apos;, serif" font-style="italic" font-size="18.8">Curve c</text>
<text x="346.4" y="555.0" font-family="&apos;Liberation Serif&apos;, serif" font-style="italic" font-size="18.8">Curve b</text>
<text x="319.8" y="625.1" font-family="&apos;Liberation Serif&apos;, serif" font-style="italic" font-size="18.8">Curve a</text>
<path d="M384.60,559.50 L367.49,576.38" stroke="#5B9BD5" stroke-width="1.1"/><path d="M361.80,582.00 L364.90,573.04 L370.80,579.02 Z" fill="#5B9BD5"/>
<path d="M318.90,612.10 L305.13,589.99" stroke="#5B9BD5" stroke-width="1.1"/><path d="M300.90,583.20 L308.96,588.19 L301.83,592.64 Z" fill="#5B9BD5"/>
</svg>
</body></html>
